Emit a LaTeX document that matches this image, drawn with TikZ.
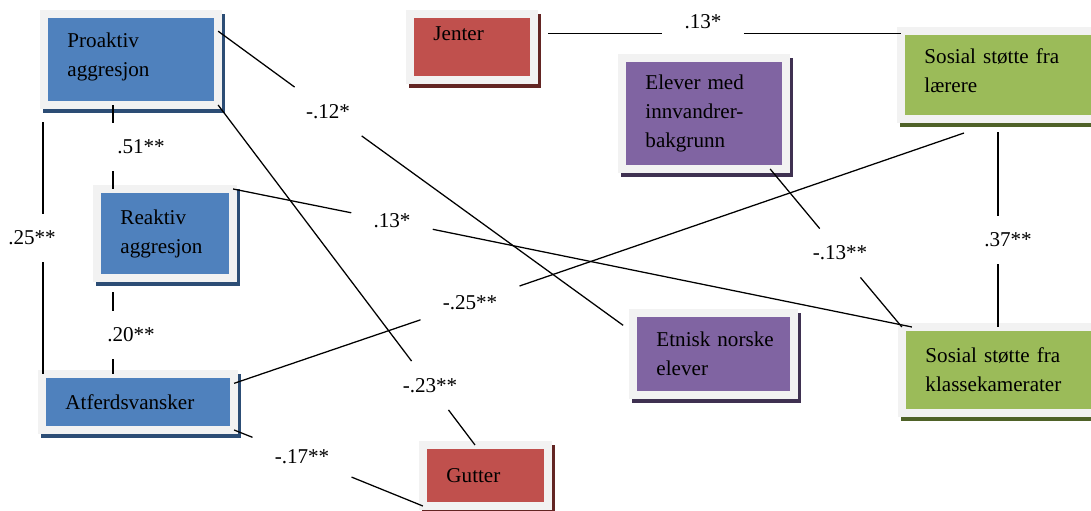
\documentclass[tikz,border=0pt]{standalone}
\usepackage{fontspec}
\setmainfont{Liberation Serif}
\usetikzlibrary{shadows}

\definecolor{boxblue}{HTML}{4F81BD}
\definecolor{boxred}{HTML}{C0504D}
\definecolor{boxpurple}{HTML}{8064A2}
\definecolor{boxgreen}{HTML}{9BBB59}
\definecolor{shadeblue}{HTML}{2C4D75}
\definecolor{shadered}{HTML}{632523}
\definecolor{shadepurple}{HTML}{3F3151}
\definecolor{shadegreen}{HTML}{4F6228}
\definecolor{framegray}{HTML}{F2F2F2}

\begin{document}
\begin{tikzpicture}[
  x=0.025cm, y=-0.025cm,
  font=\fontsize{15}{20.6}\selectfont,
  box/.style 2 args={rectangle, draw=framegray, line width=2mm, fill=#1,
    general shadow={draw=#2, fill=#2, line width=2mm,
                    shadow xshift=0.75mm, shadow yshift=-1mm},
    align=left, inner xsep=5.9mm, inner ysep=1pt, outer sep=0pt},
  aggr/.style={box={boxblue}{shadeblue}},
  gender/.style={box={boxred}{shadered}},
  ethnic/.style={box={boxpurple}{shadepurple}},
  support/.style={box={boxgreen}{shadegreen}},
  coef/.style={inner xsep=5.5mm, inner ysep=4.25mm},
  link/.style={line width=0.9pt},
]
  \useasboundingbox (0,0) rectangle (1091,511);

  % variables
  \node[aggr, text width=3.175cm, minimum height=2.275cm, text depth=27.6pt] (pro) at (131,59.5) {Proaktiv\\aggresjon};
  \node[aggr, text width=2.225cm, minimum height=2.225cm] (rea) at (165,233.5) {Reaktiv\\aggresjon};
  \node[aggr, text width=3.625cm, minimum height=1.4cm] (atf) at (138,402) {Atferdsvansker};
  \node[gender, text width=1.925cm, minimum height=1.65cm, text depth=18.7pt] (jen) at (472,47) {Jenter};
  \node[gender, text width=1.95cm, minimum height=1.525cm] (gut) at (485.5,475.5) {Gutter};
  \node[ethnic, text width=2.925cm, minimum height=2.775cm] (elv) at (704,113.5) {Elever med\\innvandrer-\\bakgrunn};
  \node[ethnic, text width=2.85cm, minimum height=2.05cm] (etn) at (713.5,354) {Etnisk~norske\\elever};
  \node[support, text width=3.675cm, minimum height=2.2cm, text depth=27pt] (sl) at (998,75) {Sosial støtte fra\\lærere};
  \node[support, text width=3.675cm, minimum height=2.15cm] (sk) at (999,370) {Sosial støtte fra\\klassekamerater};

  % coefficients
  \node[coef] (c51) at (141,147) {.51**};
  \node[coef] (c20) at (131,335) {.20**};
  \node[coef] (c25) at (32,238) {.25**};
  \node[coef] (c37) at (1008,240) {.37**};
  \node[coef] (c13a) at (703,22) {.13*};
  \node[coef] (c12) at (328,111.5) {-.12*};
  \node[coef] (c23) at (430,385.5) {-.23**};
  \node[coef] (c13b) at (392,221) {.13*};
  \node[coef] (c25b) at (470,303) {-.25**};
  \node[coef] (c13c) at (840,253) {-.13**};
  \node[coef] (c17) at (302,457) {-.17**};

  \coordinate (colA) at (113,0);
  \coordinate (colB) at (43,0);

  % vertical links
  \draw[link] (pro.south -| colA) -- (c51.north -| colA);
  \draw[link] (c51.south -| colA) -- (rea.north -| colA);
  \draw[link, shorten <=3.5mm] (rea.south -| colA) -- (c20.north -| colA);
  \draw[link] (c20.south -| colA) -- (atf.north -| colA);
  \draw[link, shorten <=4.25mm] (pro.south -| colB) -- (c25.north -| colB);
  \draw[link] (c25.south -| colB) -- (atf.north -| colB);
  \draw[link, shorten <=3.25mm] (sl.south) -- (c37.north -| sl.south);
  \draw[link] (c37.south -| sl.south) -- (sk.north -| sl.south);

  % cross links
  \draw[link, shorten <=3.5mm] (jen.12) -- (jen.12 -| c13a.west);
  \draw[link] (jen.12 -| c13a.east) -- (sl.west |- jen.12);
  \draw[link] (pro.18) -- (c12);
  \draw[link, shorten >=3mm] (c12) -- (etn.165);
  \draw[link] (pro.south east) -- (c23);
  \draw[link] (c23) -- (gut.109);
  \draw[link] (rea.north east) -- (c13b);
  \draw[link] (c13b) -- ([xshift=2.5mm]sk.north west);
  \draw[link] (atf.11) -- (c25b);
  \draw[link] (c25b) -- ([xshift=-8.5mm,yshift=-3.5mm]sl.south);
  \draw[link] (elv.-40) -- (c13c);
  \draw[link] (c13c) -- (sk.north west);
  \draw[link] (atf.south east) -- (c17);
  \draw[link] (c17) -- (gut.south west);
\end{tikzpicture}
\end{document}
